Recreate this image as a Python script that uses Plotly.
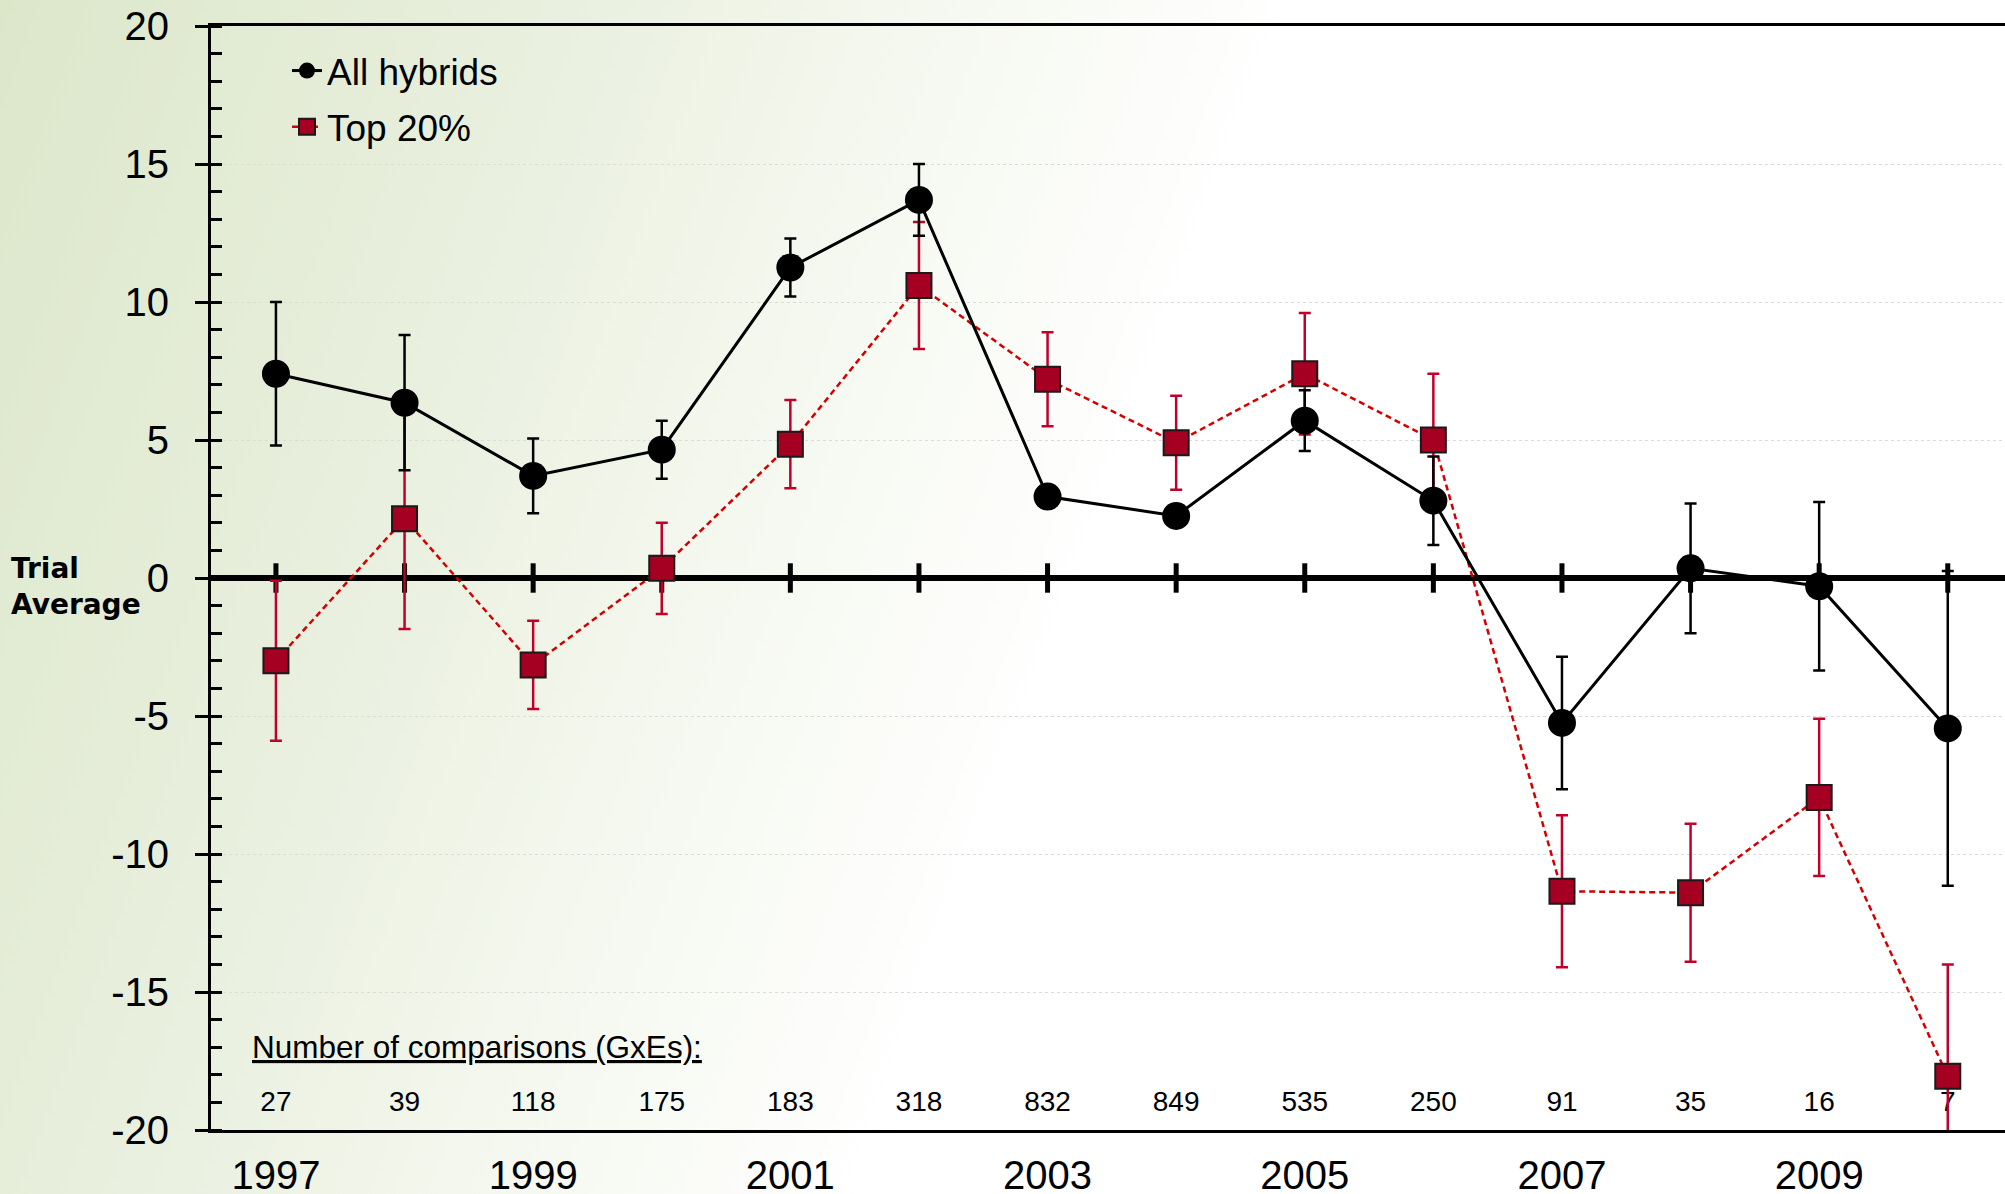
import base64
import plotly.graph_objects as go

# ---------------- data ----------------
years = [1997, 1998, 1999, 2000, 2001, 2002, 2003, 2004, 2005, 2006, 2007, 2008, 2009, 2010]
all_hybrids = [7.4, 6.35, 3.7, 4.65, 11.25, 13.7, 2.95, 2.25, 5.7, 2.8, -5.25, 0.35, -0.3, -5.45]
all_hybrids_err = [2.6, 2.45, 1.35, 1.05, 1.05, 1.3, 0.35, 0.4, 1.1, 1.6, 2.4, 2.35, 3.05, 5.7]
top20 = [-3.0, 2.15, -3.15, 0.35, 4.85, 10.6, 7.2, 4.9, 7.4, 5.0, -11.35, -11.4, -7.95, -18.05]
top20_err = [2.9, 4.0, 1.6, 1.65, 1.6, 2.3, 1.7, 1.7, 2.2, 2.4, 2.75, 2.5, 2.85, 4.05]
gxe_counts = [27, 39, 118, 175, 183, 318, 832, 849, 535, 250, 91, 35, 16, 7]
xtick_years = [1997, 1999, 2001, 2003, 2005, 2007, 2009]
ytick_vals = [-20, -15, -10, -5, 0, 5, 10, 15, 20]
ytick_text = ["-20", "-15", "-10", "-5", "0", "5", "10", "15", "20"]

# ---------------- layout constants ----------------
W, H = 2005, 1194
ML, MR, MT, MB = 211, 0, 26, 64
PW, PH = W - ML - MR, H - MT - MB
GXE_ROW_Y = -19.05
FONT = "Liberation Sans, Arial, sans-serif"
BOLD_FONT = "DejaVu Sans, Verdana, sans-serif"

# background gradient (green top-left fading to white)
svg = (
    f'<svg xmlns="http://www.w3.org/2000/svg" width="{W}" height="{H}">'
    '<defs><linearGradient id="g" gradientUnits="userSpaceOnUse" x1="0" y1="0" x2="1150" y2="420">'
    '<stop offset="0" stop-color="#dce7ca"/>'
    '<stop offset="0.4" stop-color="#e8efdd"/>'
    '<stop offset="0.75" stop-color="#f6f9f1"/>'
    '<stop offset="1" stop-color="#ffffff"/>'
    '</linearGradient></defs>'
    f'<rect width="{W}" height="{H}" fill="url(#g)"/></svg>'
)
bg_uri = "data:image/svg+xml;base64," + base64.b64encode(svg.encode()).decode()

fig = go.Figure()

# year tick marks crossing the zero line
fig.add_trace(go.Scatter(
    x=years, y=[0] * len(years), mode="markers",
    marker=dict(symbol="line-ns", size=21, line=dict(width=5, color="black")),
    showlegend=False, hoverinfo="skip",
))

# number of comparisons row
fig.add_trace(go.Scatter(
    x=years, y=[GXE_ROW_Y] * len(years), mode="text",
    text=[str(v) for v in gxe_counts],
    textfont=dict(size=28, family=FONT, color="black"),
    showlegend=False, hoverinfo="skip",
))

fig.add_trace(go.Scatter(
    x=years, y=top20, mode="lines+markers", name="Top 20%",
    line=dict(color="#d40000", width=2.5, dash="6px,4px"),
    marker=dict(symbol="square", size=25, color="#a50021",
                line=dict(color="#1a1a1a", width=2)),
    error_y=dict(type="data", array=top20_err, visible=True,
                 color="#c0002a", thickness=2.5, width=6),
    legendgroup="b", legendrank=2,
))

fig.add_trace(go.Scatter(
    x=years, y=all_hybrids, mode="lines+markers", name="All hybrids",
    line=dict(color="black", width=3),
    marker=dict(symbol="circle", size=28, color="black"),
    error_y=dict(type="data", array=all_hybrids_err, visible=True,
                 color="black", thickness=2.5, width=6),
    legendgroup="a", legendrank=1,
))

fig.update_layout(
    width=W, height=H,
    margin=dict(l=ML, r=MR, t=MT, b=MB, pad=0, autoexpand=False),
    paper_bgcolor="white", plot_bgcolor="rgba(0,0,0,0)",
    font=dict(family=FONT, color="black"),
    images=[dict(source=bg_uri, xref="paper", yref="paper",
                 x=-ML / PW, y=1 + MT / PH, sizex=W / PW, sizey=H / PH,
                 xanchor="left", yanchor="top", sizing="stretch", layer="below")],
    xaxis=dict(
        range=[1996.495, 2010.445],
        tickvals=xtick_years, ticktext=[str(y) for y in xtick_years],
        ticks="", showline=True, linecolor="black", linewidth=3, mirror=True,
        showgrid=False, zeroline=False,
        tickfont=dict(size=40, family=FONT, color="black"),
        ticklabelstandoff=8, automargin=False,
    ),
    yaxis=dict(
        range=[-20, 20], tickvals=ytick_vals, ticktext=ytick_text,
        ticks="outside", ticklen=13, tickwidth=3, tickcolor="black",
        showline=True, linecolor="black", linewidth=3,
        showgrid=True, gridcolor="#d9dcd9", gridwidth=1, griddash="dot",
        zeroline=True, zerolinecolor="black", zerolinewidth=6,
        minor=dict(dtick=1, ticks="inside", ticklen=11, tickwidth=3,
                   tickcolor="black", showgrid=False),
        tickfont=dict(size=40, family=FONT, color="black"),
        ticklabelstandoff=18, automargin=False,
    ),
    legend=dict(
        x=(287 - ML) / PW, y=1 - (40 - MT) / PH, xanchor="left", yanchor="top",
        font=dict(size=37, family=FONT, color="black"),
        bgcolor="rgba(0,0,0,0)", tracegroupgap=5,
    ),
    annotations=[
        dict(text="<b>Trial<br>Average</b>", xref="paper", yref="y",
             x=(9 - ML) / PW, y=-0.3, xanchor="left", yanchor="middle",
             align="left", showarrow=False,
             font=dict(size=28, family=BOLD_FONT, color="black")),
        dict(text="<u>Number of comparisons (GxEs):</u>", xref="paper", yref="y",
             x=(250 - ML) / PW, y=-17.0, xanchor="left", yanchor="middle",
             showarrow=False, font=dict(size=31.5, family=FONT, color="black")),
    ],
    hovermode=False,
)

fig.write_html(
    "out.html",
    config={"displayModeBar": False},
    post_script="document.body.style.margin='0';document.body.style.overflow='hidden';",
)
